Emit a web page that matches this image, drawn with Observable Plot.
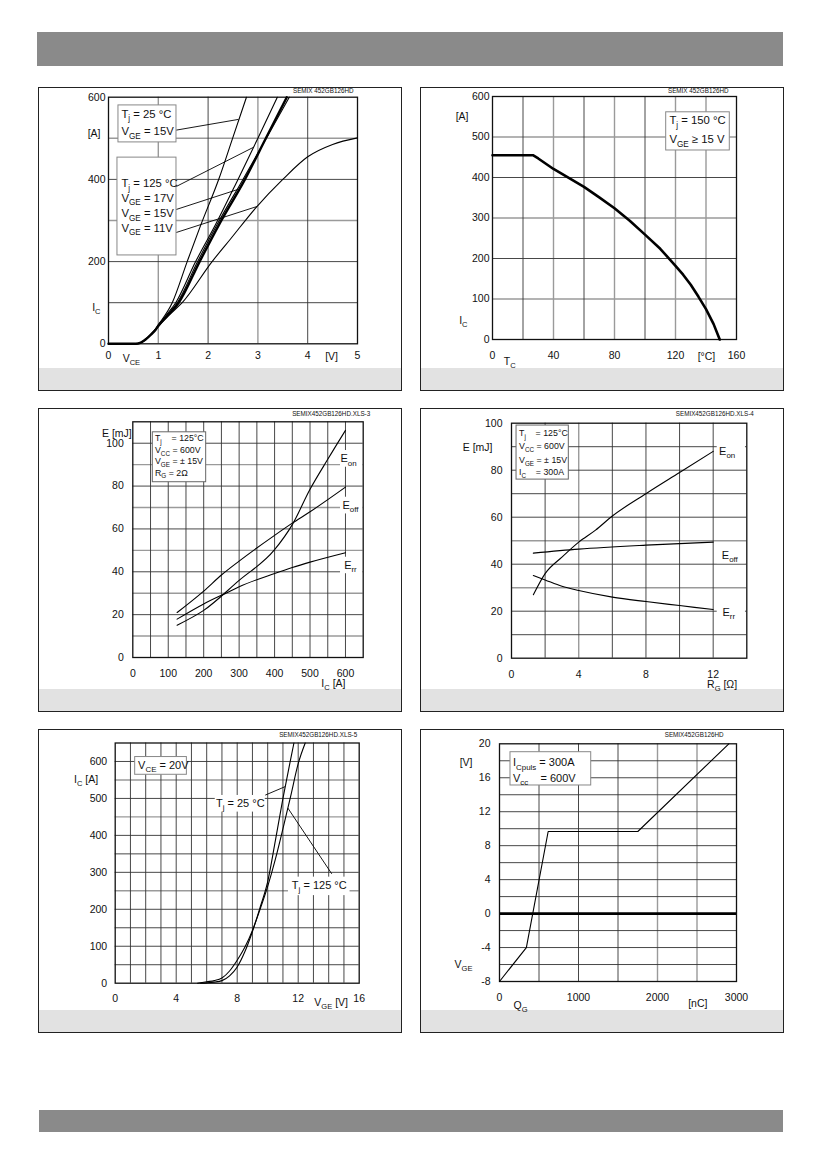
<!DOCTYPE html>
<html>
<head>
<meta charset="utf-8">
<script src="https://cdn.jsdelivr.net/npm/d3@7"></script>
<script src="https://cdn.jsdelivr.net/npm/@observablehq/plot@0.6"></script>
<style>
html,body{margin:0;padding:0;background:#fff;}
body{position:relative;width:826px;height:1169px;overflow:hidden;font-family:"Liberation Sans",Arial,Helvetica,sans-serif;}
.bar{position:absolute;background:#8a8a8a;}
.panel{position:absolute;width:364px;height:304px;box-sizing:border-box;border:1.5px solid #222;pointer-events:none;z-index:2;}
.foot{position:absolute;width:364px;height:22px;background:#e2e2e2;z-index:0;}
.chart{position:absolute;z-index:1;}
.chart svg{overflow:visible;}
.chart svg text{white-space:pre;}
</style>
</head>
<body>
<div class="bar" style="left:37px;top:32px;width:746px;height:34px"></div>
<div class="bar" style="left:39px;top:1110px;width:744px;height:22px"></div>
<script>
// ================= DATA =================
// Fig 1: typ. output characteristic  (V_CE [V], I_C [A])
const p1Tj25Vge15  = [[0,0],[0.55,0],[0.65,3],[0.75,11],[0.85,23],[0.95,37],[1.0,46],[1.28,100],[1.58,200],[1.85,288],[2.21,399],[2.5,503],[2.77,600]];
const p1Tj125Vge17 = [[0,0],[0.55,0],[0.65,3],[0.75,11],[0.85,23],[0.95,36],[1.0,44],[1.15,68],[1.35,100],[1.75,200],[2.15,290],[2.6,400],[3.0,500],[3.39,600]];
const p1Tj125Vge15 = [[0,0],[0.55,0],[0.65,3],[0.75,11],[0.85,22],[0.95,35],[1.0,44],[1.2,70],[1.41,100],[1.83,200],[2.22,290],[2.74,400],[3.16,500],[3.58,600]];
const p1Tj125Vge15b = [[0,0],[0.55,0],[0.65,3],[0.75,11],[0.85,22],[0.95,35],[1.0,44],[1.18,70],[1.38,100],[1.79,200],[2.18,290],[2.7,400],[3.17,500],[3.63,600]];
const p1Tj125Vge11 = [[0,0],[0.55,0],[0.65,3],[0.75,11],[0.85,22],[0.95,35],[1.0,42],[1.2,68],[1.48,100],[2.08,200],[2.45,255],[2.98,334],[3.5,400],[4.0,455],[4.5,485],[5.0,501]];
const p1TicksX = [0,1,2,3,4,5];
const p1TicksY = [0,200,400,600];
const p1GridX = [1,2,3,4], p1LightX = [1,3];
const p1GridY = [100,200,300,400,500], p1LightY = [300,500];

// Fig 2: rated current vs temperature (T_C [°C], I_C [A])
const p2Derating = [[0,455],[26.5,455],[30,447],[40,421],[50,399],[60,377],[70,351],[80,324],[90,293],[100,259],[110,224],[120,182],[125,160],[130,135],[135,106],[140,75],[145,38],[149,0]];
const p2TicksX = [0,40,80,120,160];
const p2TicksY = [0,100,200,300,400,500,600];
const p2GridX = [20,40,60,80,100,120,140], p2LightX = [40,80,120,140];
const p2GridY = [100,200,300,400,500], p2LightY = [100,300,500];

// Fig 3: switching energy vs I_C (I_C [A], E [mJ])
const p3Eon  = [[125,15.1],[200,22],[300,36],[400,50.3],[450,62],[500,78.5],[550,92.5],[600,106]];
const p3Eoff = [[125,21],[200,31],[250,38.5],[300,45],[400,57],[450,62.7],[500,68],[600,79.5]];
const p3Err  = [[125,17.9],[200,25],[270,30.6],[300,33],[400,39.2],[450,42],[500,44.5],[600,48.9]];
const p3TicksX = [0,100,200,300,400,500,600];
const p3TicksY = [0,20,40,60,80,100];
const p3GridX = [50,100,150,200,250,300,350,400,450,500,550,600], p3LightX = [];
const p3GridY = [10,20,30,40,50,60,70,80,90,100], p3LightY = [10,30,50,70,90];

// Fig 4: switching energy vs R_G (R_G [Ω], E [mJ])
const p4Eon  = [[1.3,27],[2,36],[3,43],[4,49.4],[5,54.5],[6,60.5],[8,70],[10,79],[12,88]];
const p4Eoff = [[1.3,44.7],[4,46.4],[8,48.1],[12,49.4]];
const p4Err  = [[1.3,35.2],[2,33.3],[3,30.6],[4,28.8],[6,26],[8,24.1],[10,22.4],[12,20.7]];
const p4TicksX = [0,4,8,12];
const p4TicksY = [0,20,40,60,80,100];
const p4GridX = [2,4,6,8,10,12], p4LightX = [4];
const p4GridY = [10,20,30,40,50,60,70,80,90], p4LightY = [30,50];

// Fig 5: transfer characteristic (V_GE [V], I_C [A])
const p5Tj25  = [[5.6,0],[6,1],[6.5,3],[7,7],[7.5,20],[8,44],[8.5,85],[9,140],[9.5,205],[10,275],[10.5,385],[11,500],[11.5,605],[11.72,650]];
const p5Tj125 = [[5.4,0],[6,4],[6.5,7],[7,14],[7.5,33],[8,62],[8.5,97],[9,143],[9.5,200],[10,262],[10.5,335],[11,418],[11.5,505],[12,594],[12.46,650]];
const p5TicksX = [0,4,8,12,16];
const p5TicksY = [0,100,200,300,400,500,600];
const p5GridX = [1,2,3,4,5,6,7,8,9,10,11,12,13,14,15], p5LightX = [];
const p5GridY = [50,100,150,200,250,300,350,400,450,500,550,600], p5LightY = [250,450,550];

// Fig 6: gate charge (Q_G [nC], V_GE [V])
const p6Gate = [[0,-8],[340,-4],[616,9.67],[1751,9.67],[2903,20]];
const p6TicksX = [0,1000,2000,3000];
const p6TicksY = [-8,-4,0,4,8,12,16,20];
const p6GridX = [500,1000,1500,2000,2500], p6LightX = [2000,2500];
const p6GridY = [-6,-4,-2,2,4,6,8,10,12,14,16,18], p6LightY = [];

// ================= DRAWING =================
const FONT = '"Liberation Sans", Arial, Helvetica, sans-serif';
const NS = "http://www.w3.org/2000/svg";

function applySubs(svg) {
  svg.querySelectorAll("text").forEach(t => {
    const s = t.textContent;
    if (!s.includes("_{")) return;
    const fs = parseFloat(getComputedStyle(t).fontSize) || 10;
    const sh = fs * 0.3;
    while (t.firstChild) t.removeChild(t.firstChild);
    const re = /_\{([^}]*)\}/g;
    let last = 0, m, shifted = false;
    while ((m = re.exec(s))) {
      const pre = s.slice(last, m.index);
      if (pre) {
        const ts = document.createElementNS(NS, "tspan");
        if (shifted) { ts.setAttribute("dy", -sh); shifted = false; }
        ts.textContent = pre;
        t.appendChild(ts);
      }
      const sub = document.createElementNS(NS, "tspan");
      sub.setAttribute("dy", shifted ? 0 : sh);
      sub.setAttribute("font-size", (fs * 0.72).toFixed(2));
      sub.textContent = m[1];
      t.appendChild(sub);
      shifted = true;
      last = re.lastIndex;
    }
    const rest = s.slice(last);
    if (rest) {
      const ts = document.createElementNS(NS, "tspan");
      if (shifted) ts.setAttribute("dy", -sh);
      ts.textContent = rest;
      t.appendChild(ts);
    }
  });
}

function drawPanel(c) {
  const P = {x: d => d[0], y: d => d[1]};
  const marks = [];
  const darkX = c.gridX.filter(v => !c.lightX.includes(v));
  const darkY = c.gridY.filter(v => !c.lightY.includes(v));
  marks.push(Plot.ruleX(c.lightX, {stroke: "#9a9a9a", strokeWidth: 1.4}));
  marks.push(Plot.ruleY(c.lightY, {stroke: "#9a9a9a", strokeWidth: 1.4}));
  marks.push(Plot.ruleX(darkX, {stroke: "#333", strokeWidth: 0.9}));
  marks.push(Plot.ruleY(darkY, {stroke: "#333", strokeWidth: 0.9}));
  for (const b of (c.boxes || [])) {
    marks.push(Plot.rect([b], {x1: d => d.x1, x2: d => d.x2, y1: d => d.y1, y2: d => d.y2,
      fill: "white", stroke: b.stroke || "none", strokeWidth: 1}));
  }
  for (const r of (c.rules || [])) marks.push(Plot.ruleY([r.y], {stroke: "#000", strokeWidth: r.w}));
  marks.push(Plot.frame({stroke: "#111", strokeWidth: 1.3}));
  if (c.leaders) marks.push(Plot.link(c.leaders, {x1: d => d[0], y1: d => d[1], x2: d => d[2], y2: d => d[3], stroke: "#000", strokeWidth: 0.9}));
  for (const s of c.series) {
    marks.push(Plot.line(s.data, {...P, stroke: "#000", strokeWidth: s.w || 1.1, curve: s.curve || "monotone-x"}));
  }
  marks.push(Plot.axisX({ticks: c.xTicks, tickSize: 0, tickPadding: c.xPad, tickFormat: d => String(d), label: null}));
  marks.push(Plot.axisY({ticks: c.yTicks, tickSize: 0, tickPadding: c.yPad, tickFormat: d => String(d), label: null}));
  for (const t of c.texts) {
    marks.push(Plot.text([t], {x: d => d.x, y: d => d.y, text: d => d.s,
      textAnchor: t.anchor || "start", lineAnchor: "middle", fontSize: t.size || 11,
      dx: t.dx || 0, dy: t.dy || 0, fill: "#111"}));
  }
  const top = c.top, left = c.left;
  const H = 281, W = 364;
  const svg = Plot.plot({
    width: W, height: H,
    marginLeft: c.frame.x0 - left,
    marginRight: left + W - c.frame.x1,
    marginTop: c.frame.yTop - top,
    marginBottom: top + H - c.frame.yBot,
    x: {domain: c.xDomain},
    y: {domain: c.yDomain},
    style: {background: "transparent", fontFamily: FONT, fontSize: "10.5px", color: "#111", overflow: "visible"},
    marks
  });
  const foot = document.createElement("div");
  foot.className = "foot";
  foot.style.left = left + "px";
  foot.style.top = (top + 304 - 23) + "px";
  document.body.appendChild(foot);
  const holder = document.createElement("div");
  holder.className = "chart";
  holder.style.left = left + "px";
  holder.style.top = top + "px";
  document.body.appendChild(holder);
  holder.appendChild(svg);
  applySubs(svg);
  const frame = document.createElement("div");
  frame.className = "panel";
  frame.style.left = left + "px";
  frame.style.top = top + "px";
  document.body.appendChild(frame);
}

const NB = "\u00a0";

// ---------- Panel 1 ----------
drawPanel({
  left: 38, top: 87,
  frame: {x0: 108, x1: 357, yTop: 96.7, yBot: 343.3},
  xDomain: [0, 5], yDomain: [0, 600],
  xTicks: p1TicksX, yTicks: p1TicksY, xPad: 8, yPad: 3,
  gridX: p1GridX, lightX: p1LightX, gridY: p1GridY, lightY: p1LightY,
  boxes: [
    {x1: 0.2, x2: 1.365, y1: 490, y2: 580, stroke: "#888"},
    {x1: 0.18, x2: 1.365, y1: 215, y2: 453, stroke: "#888"}
  ],
  leaders: [[1.365, 520, 2.61, 546], [1.365, 383, 2.91, 478], [1.365, 327, 2.61, 376], [1.365, 271, 2.98, 334]],
  series: [
    {data: p1Tj25Vge15}, {data: p1Tj125Vge17}, {data: p1Tj125Vge15, w: 2.4},
    {data: p1Tj125Vge15b}, {data: p1Tj125Vge11}
  ],
  texts: [
    {x: 0.26, y: 558, s: "T_{j} = 25 °C", size: 11.3},
    {x: 0.26, y: 516, s: "V_{GE} = 15V", size: 11.3},
    {x: 0.26, y: 390, s: "T_{j} = 125 °C", size: 11.3},
    {x: 0.26, y: 354, s: "V_{GE} = 17V", size: 11.3},
    {x: 0.26, y: 317, s: "V_{GE} = 15V", size: 11.3},
    {x: 0.26, y: 281, s: "V_{GE} = 11V", size: 11.3},
    {x: 0, y: 512, s: "[A]", anchor: "end", dx: -8, size: 10.5},
    {x: 0, y: 89, s: "I_{C}", anchor: "end", dx: -8, size: 10.5},
    {x: 0.46, y: 0, s: "V_{CE}", anchor: "middle", dy: 15, size: 10.5},
    {x: 4.48, y: 0, s: "[V]", anchor: "middle", dy: 13, size: 10.5},
    {x: 5, y: 600, s: "SEMIX 452GB126HD", anchor: "end", dx: -4, dy: -6, size: 6.3}
  ]
});

// ---------- Panel 2 ----------
drawPanel({
  left: 420, top: 87,
  frame: {x0: 492, x1: 736, yTop: 96, yBot: 339},
  xDomain: [0, 160], yDomain: [0, 600],
  xTicks: p2TicksX, yTicks: p2TicksY, xPad: 12, yPad: 3,
  gridX: p2GridX, lightX: p2LightX, gridY: p2GridY, lightY: p2LightY,
  boxes: [{x1: 113.9, x2: 155.6, y1: 466.7, y2: 561, stroke: "#888"}],
  series: [{data: p2Derating, w: 2.6, curve: "linear"}],
  texts: [
    {x: 116, y: 540.7, s: "T_{j} = 150 °C", size: 11.3},
    {x: 116, y: 493, s: "V_{GE} ≥ 15 V", size: 11.3},
    {x: 0, y: 550, s: "[A]", anchor: "end", dx: -24, size: 10.5},
    {x: 0, y: 47, s: "I_{C}", anchor: "end", dx: -25, size: 10.5},
    {x: 11.3, y: 0, s: "T_{C}", anchor: "middle", dy: 22, size: 10.5},
    {x: 140.3, y: 0, s: "[°C]", anchor: "middle", dy: 17, size: 10.5},
    {x: 160, y: 600, s: "SEMIX 452GB126HD", anchor: "end", dx: -8, dy: -6, size: 6.3}
  ]
});

// ---------- Panel 3 ----------
drawPanel({
  left: 38, top: 408,
  frame: {x0: 132.3, x1: 362.7, yTop: 421.3, yBot: 657},
  xDomain: [0, 650], yDomain: [0, 110],
  xTicks: p3TicksX, yTicks: p3TicksY, xPad: 12, yPad: 9,
  gridX: p3GridX, lightX: p3LightX, gridY: p3GridY, lightY: p3LightY,
  boxes: [
    {x1: 56.4, x2: 207, y1: 81.8, y2: 105.1, stroke: "#666"},
    {x1: 586, x2: 649, y1: 88.8, y2: 96.6},
    {x1: 586, x2: 649, y1: 67, y2: 74.8},
    {x1: 586, x2: 649, y1: 39.1, y2: 46.8}
  ],
  series: [{data: p3Eon}, {data: p3Eoff}, {data: p3Err}],
  texts: [
    {x: 62.6, y: 102.2, s: "T_{j}" + NB + NB + NB + NB + "= 125°C", size: 8.8},
    {x: 62.6, y: 96.8, s: "V_{CC} = 600V", size: 8.8},
    {x: 62.6, y: 91.5, s: "V_{GE} = ± 15V", size: 8.8},
    {x: 62.6, y: 86.1, s: "R_{G} = 2Ω", size: 8.8},
    {x: 608.5, y: 92.7, s: "E_{on}", anchor: "middle", size: 11},
    {x: 614, y: 70.9, s: "E_{off}", anchor: "middle", size: 11},
    {x: 614, y: 42.9, s: "E_{rr}", anchor: "middle", size: 11},
    {x: 0, y: 104.5, s: "E [mJ]", anchor: "end", dx: -1, size: 10.5},
    {x: 566, y: 0, s: "I_{C} [A]", anchor: "middle", dy: 26, size: 10.5},
    {x: 650, y: 110, s: "SEMIX452GB126HD.XLS-3", anchor: "end", dx: 7, dy: -8, size: 6.3}
  ]
});

// ---------- Panel 4 ----------
drawPanel({
  left: 420, top: 408,
  frame: {x0: 511, x1: 746.3, yTop: 422.7, yBot: 657.7},
  xDomain: [0, 14], yDomain: [0, 100],
  xTicks: p4TicksX, yTicks: p4TicksY, xPad: 12, yPad: 9,
  gridX: p4GridX, lightX: p4LightX, gridY: p4GridY, lightY: p4LightY,
  boxes: [
    {x1: 0.3, x2: 3.41, y1: 76, y2: 99, stroke: "#666"},
    {x1: 12.24, x2: 13.92, y1: 84.8, y2: 91.2},
    {x1: 12.24, x2: 13.92, y1: 40.2, y2: 47.2},
    {x1: 12.24, x2: 13.92, y1: 16, y2: 23.1}
  ],
  series: [{data: p4Eon}, {data: p4Eoff}, {data: p4Err}],
  texts: [
    {x: 0.45, y: 95.6, s: "T_{j}" + NB + NB + NB + NB + "= 125°C", size: 8.8},
    {x: 0.45, y: 90.1, s: "V_{CC} = 600V", size: 8.8},
    {x: 0.45, y: 84.3, s: "V_{GE} = ± 15V", size: 8.8},
    {x: 0.45, y: 79, s: "I_{C}" + NB + NB + NB + NB + "= 300A", size: 8.8},
    {x: 12.83, y: 88, s: "E_{on}", anchor: "middle", size: 11},
    {x: 12.99, y: 43.7, s: "E_{off}", anchor: "middle", size: 11},
    {x: 12.93, y: 19.6, s: "E_{rr}", anchor: "middle", size: 11},
    {x: 0, y: 89.5, s: "E [mJ]", anchor: "end", dx: -19, size: 10.5},
    {x: 12.53, y: 0, s: "R_{G} [Ω]", anchor: "middle", dy: 26, size: 10.5},
    {x: 14, y: 100, s: "SEMIX452GB126HD.XLS-4", anchor: "end", dx: 7, dy: -9, size: 6.3}
  ]
});

// ---------- Panel 5 ----------
drawPanel({
  left: 38, top: 729,
  frame: {x0: 114.7, x1: 358.7, yTop: 742.5, yBot: 982.7},
  xDomain: [0, 16], yDomain: [0, 650],
  xTicks: p5TicksX, yTicks: p5TicksY, xPad: 11.5, yPad: 8,
  gridX: p5GridX, lightX: p5LightX, gridY: p5GridY, lightY: p5LightY,
  boxes: [
    {x1: 1.31, x2: 4.7, y1: 564, y2: 612, stroke: "#888"},
    {x1: 6.56, x2: 9.84, y1: 463, y2: 508},
    {x1: 11.36, x2: 15.4, y1: 237, y2: 287}
  ],
  leaders: [[9.84, 509, 11.15, 532], [14.2, 296, 11.32, 474]],
  series: [{data: p5Tj25}, {data: p5Tj125}],
  texts: [
    {x: 1.5, y: 589, s: "V_{CE} = 20V", size: 11},
    {x: 8.2, y: 487, s: "T_{j} = 25 °C", anchor: "middle", size: 11},
    {x: 13.38, y: 264, s: "T_{j} = 125 °C", anchor: "middle", size: 11},
    {x: 0, y: 551, s: "I_{C} [A]", anchor: "end", dx: -17, size: 10.5},
    {x: 14.16, y: 0, s: "V_{GE} [V]", anchor: "middle", dy: 19, size: 10.5},
    {x: 16, y: 650, s: "SEMIX452GB126HD.XLS-5", anchor: "end", dx: -2, dy: -8, size: 6.3}
  ]
});

// ---------- Panel 6 ----------
drawPanel({
  left: 420, top: 729,
  frame: {x0: 499, x1: 736, yTop: 743.3, yBot: 981},
  xDomain: [0, 3000], yDomain: [-8, 20],
  xTicks: p6TicksX, yTicks: p6TicksY, xPad: 12, yPad: 9,
  gridX: p6GridX, lightX: p6LightX, gridY: p6GridY, lightY: p6LightY,
  rules: [{y: 0, w: 2.6}],
  boxes: [{x1: 139, x2: 1161, y1: 15.09, y2: 19.01, stroke: "#888"}],
  series: [{data: p6Gate, curve: "linear"}],
  texts: [
    {x: 171, y: 17.76, s: "I_{Cpuls} = 300A", size: 11},
    {x: 171, y: 15.95, s: "V_{cc}" + NB + NB + NB + NB + "= 600V", size: 11},
    {x: 0, y: 17.76, s: "[V]", anchor: "end", dx: -27, size: 10.5},
    {x: 0, y: -6.03, s: "V_{GE}", anchor: "end", dx: -27, size: 10.5},
    {x: 266, y: -8, s: "Q_{G}", anchor: "middle", dy: 24, size: 10.5},
    {x: 2510, y: -8, s: "[nC]", anchor: "middle", dy: 22, size: 10.5},
    {x: 3000, y: 20, s: "SEMIX452GB126HD", anchor: "end", dx: -13, dy: -9, size: 6.3}
  ]
});
</script>
</body>
</html>
